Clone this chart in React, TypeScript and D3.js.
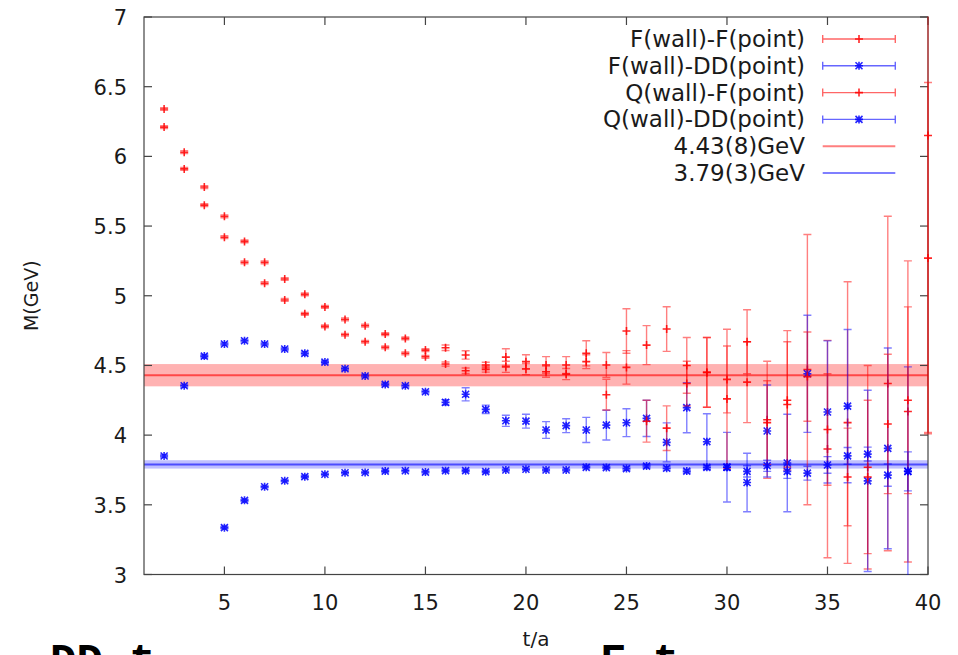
import React from "react";
import * as d3 from "d3";

// ---- data ----
const tRed = [2,3,4,5,6,7,8,9,10,11,12,13,14,15,16,17,18,19,20,21,22,23,24,25,26,27,28,29,30,31,32,33,34,35,36,37,38,39,40];
const redA = [6.34,6.03,5.78,5.57,5.39,5.24,5.12,5.01,4.92,4.83,4.785,4.725,4.694,4.61,4.627,4.575,4.503,4.56,4.527,4.503,4.503,4.587,4.503,4.747,4.646,4.761,4.50,4.45,4.40,4.67,4.11,4.25,4.47,3.90,4.09,3.77,4.37,4.17,6.15];
const redAErr = [0.01,0.01,0.01,0.01,0.01,0.01,0.01,0.01,0.01,0.01,0.01,0.01,0.01,0.01,0.02,0.03,0.02,0.06,0.05,0.06,0.06,0.09,0.09,0.16,0.14,0.16,0.2,0.25,0.24,0.23,0.42,0.5,0.97,0.78,1.01,0.73,1.2,1.08,2.13];
const redB = [6.21,5.91,5.65,5.42,5.24,5.09,4.97,4.87,4.78,4.72,4.67,4.63,4.587,4.562,4.51,4.462,4.472,4.49,4.474,4.455,4.438,4.527,4.29,4.486,4.10,4.05,4.37,4.45,4.26,4.38,4.09,4.22,4.42,4.04,3.70,3.70,4.08,4.25,5.27];
const redBErr = [0.01,0.01,0.01,0.01,0.01,0.01,0.01,0.01,0.01,0.01,0.01,0.01,0.01,0.01,0.015,0.02,0.02,0.04,0.04,0.04,0.04,0.05,0.11,0.12,0.15,0.16,0.16,0.25,0.5,0.29,0.3,0.45,0.32,0.4,0.35,0.55,0.5,0.67,1.26];
const tBlueUp = [2,3,4,5,6,7,8,9,10,11,12,13,14,15,16,17,18,19,20,21,22,23,24,25,26,27,28,29,30,31,32,33,34,35,36,37,38,39];
const blueUp = [3.85,4.354,4.567,4.654,4.677,4.654,4.618,4.587,4.524,4.476,4.424,4.364,4.354,4.311,4.235,4.293,4.185,4.103,4.10,4.037,4.068,4.037,4.072,4.089,4.12,3.948,4.197,3.953,3.77,3.66,4.03,3.80,4.44,4.166,4.208,3.672,3.905,3.74];
const blueUpErr = [0.01,0.01,0.01,0.01,0.01,0.01,0.01,0.01,0.01,0.01,0.01,0.01,0.01,0.01,0.02,0.047,0.03,0.04,0.05,0.06,0.05,0.09,0.107,0.10,0.13,0.14,0.18,0.2,0.25,0.21,0.33,0.35,0.42,0.51,0.55,0.65,0.72,0.75];
const tBlueLow = [5,6,7,8,9,10,11,12,13,14,15,16,17,18,19,20,21,22,23,24,25,26,27,28,29,30,31,32,33,34,35,36,37,38,39];
const blueLow = [3.336,3.532,3.630,3.673,3.702,3.719,3.730,3.732,3.742,3.744,3.735,3.745,3.745,3.738,3.75,3.755,3.75,3.75,3.769,3.767,3.76,3.778,3.762,3.742,3.769,3.769,3.74,3.78,3.74,3.727,3.786,3.851,3.864,3.713,3.74];
const blueLowErr = [0.008,0.008,0.008,0.008,0.008,0.008,0.008,0.008,0.008,0.008,0.008,0.008,0.008,0.008,0.008,0.008,0.008,0.008,0.008,0.008,0.012,0.012,0.012,0.012,0.012,0.02,0.04,0.04,0.05,0.05,0.06,0.06,0.05,0.08,0.14];
const fitRed = { value: 4.43, err: 0.08 };
const fitBlue = { value: 3.79, err: 0.03 };
const xTicks = [5,10,15,20,25,30,35,40];
const yTicks = [3,3.5,4,4.5,5,5.5,6,6.5,7];
const legendLabels = ["F(wall)-F(point)","F(wall)-DD(point)","Q(wall)-F(point)","Q(wall)-DD(point)","4.43(8)GeV","3.79(3)GeV"];

const RED = "#ff0000";
const BLUE = "#0000ff";
const FONT = "DejaVu Sans, Liberation Sans, Arial, sans-serif";

export default function App() {
  const W = 958, H = 655;
  const L = 144, R = 928, T = 17, B = 574.5;
  const x = d3.scaleLinear().domain([1, 40]).range([L, R]);
  const y = d3.scaleLinear().domain([3, 7]).range([B, T]);

  const errPath = (px: number, v: number, e: number) => {
    const y1 = y(v + e), y2 = y(v - e);
    return `M${px},${y1}V${y2}M${px - 4},${y1}h8M${px - 4},${y2}h8`;
  };
  const plusPath = (px: number, py: number) => `M${px - 4},${py}h8M${px},${py - 4}v8`;
  const starPath = (px: number, py: number) =>
    `M${px - 4},${py}h8M${px},${py - 4}v8M${px - 3.5},${py - 3.5}l7,7M${px - 3.5},${py + 3.5}l7,-7`;

  const series = [
    { t: tRed, v: redA, e: redAErr, color: RED, star: false },
    { t: tBlueUp, v: blueUp, e: blueUpErr, color: BLUE, star: true },
    { t: tRed, v: redB, e: redBErr, color: RED, star: false },
    { t: tBlueLow, v: blueLow, e: blueLowErr, color: BLUE, star: true },
  ];

  const legendY = (i: number) => 39 + i * 26.8;
  const lx1 = 822.7, lx2 = 895.3, lxm = (lx1 + lx2) / 2;

  return (
    <svg width={W} height={H} style={{ position: "fixed", left: 0, top: 0, background: "#fff" }} fontFamily={FONT}>
      <rect x={0} y={0} width={W} height={H} fill="#fff" />
      <defs>
        <clipPath id="bandclip">
          <rect x={L} y={T} width={R - L} height={B - T} />
        </clipPath>
        <clipPath id="dataclip">
          <rect x={L - 6} y={T - 0.5} width={R - L + 12} height={B - T + 1} />
        </clipPath>
      </defs>

      {/* fit bands */}
      <g clipPath="url(#bandclip)">
        {[{ f: fitRed, c: RED, o: 0.3 }, { f: fitBlue, c: BLUE, o: 0.25 }].map((b, i) => (
          <g key={i}>
            <rect x={L} y={y(b.f.value + b.f.err)} width={R - L} height={y(b.f.value - b.f.err) - y(b.f.value + b.f.err)} fill={b.c} fillOpacity={b.o} />
            <line x1={L} x2={R} y1={y(b.f.value)} y2={y(b.f.value)} stroke={b.c} strokeOpacity={0.6} strokeWidth={2} />
          </g>
        ))}
      </g>

      {/* frame */}
      <rect x={L} y={T} width={R - L} height={B - T} fill="none" stroke="#444" strokeWidth={1.2} />
      {yTicks.map((v) => (
        <g key={"y" + v}>
          <line x1={L} x2={L + 8} y1={y(v)} y2={y(v)} stroke="#444" strokeWidth={1.2} />
          <line x1={R} x2={R - 8} y1={y(v)} y2={y(v)} stroke="#444" strokeWidth={1.2} />
          <text x={127} y={y(v) + 8} textAnchor="end" fontSize={21} fill="#1a1a1a">{String(v)}</text>
        </g>
      ))}
      {xTicks.map((v) => (
        <g key={"x" + v}>
          <line x1={x(v)} x2={x(v)} y1={B} y2={B - 8} stroke="#444" strokeWidth={1.2} />
          <line x1={x(v)} x2={x(v)} y1={T} y2={T + 8} stroke="#444" strokeWidth={1.2} />
          <text x={x(v)} y={610} textAnchor="middle" fontSize={21} fill="#1a1a1a">{String(v)}</text>
        </g>
      ))}

      {/* data */}
      <g clipPath="url(#dataclip)">
        {series.map((s, si) => (
          <g key={si}>
            <path
              d={s.t.map((t, i) => errPath(x(t), s.v[i], s.e[i])).join("")}
              stroke={s.color} strokeOpacity={0.5} strokeWidth={1.4} fill="none"
            />
            <path
              d={s.t.map((t, i) => (s.star ? starPath : plusPath)(x(t), y(s.v[i]))).join("")}
              stroke={s.color} strokeOpacity={0.85} strokeWidth={1.6} fill="none"
            />
          </g>
        ))}
      </g>

      {/* axis titles */}
      <text x={(L + R) / 2} y={646} textAnchor="middle" fontSize={20} fill="#1a1a1a">t/a</text>
      <text transform={`translate(38,${(T + B) / 2}) rotate(-90)`} textAnchor="middle" fontSize={19} fill="#1a1a1a">M(GeV)</text>

      {/* legend */}
      {legendLabels.map((lab, i) => {
        const ly = legendY(i);
        const color = i === 0 || i === 2 || i === 4 ? RED : BLUE;
        const isErr = i < 4;
        const star = i === 1 || i === 3;
        return (
          <g key={lab}>
            <text x={805} y={ly + 8} textAnchor="end" fontSize={23} fill="#1a1a1a">{lab}</text>
            {isErr ? (
              <g>
                <path d={`M${lx1},${ly}H${lx2}M${lx1},${ly - 4}v8M${lx2},${ly - 4}v8`} stroke={color} strokeOpacity={0.6} strokeWidth={1.4} fill="none" />
                <path d={(star ? starPath : plusPath)(lxm, ly)} stroke={color} strokeOpacity={0.85} strokeWidth={1.6} fill="none" />
              </g>
            ) : (
              <line x1={lx1} x2={lx2} y1={ly} y2={ly} stroke={color} strokeOpacity={0.5} strokeWidth={2} />
            )}
          </g>
        );
      })}

      {/* page text cut off at the bottom edge, as in the reference */}
      <text x={50} y={674} fontSize={44} fontFamily="Liberation Mono, monospace" fontWeight="bold" fill="#000">DD t</text>
      <text x={600} y={674} fontSize={44} fontFamily="Liberation Mono, monospace" fontWeight="bold" fill="#000">F t</text>
    </svg>
  );
}
